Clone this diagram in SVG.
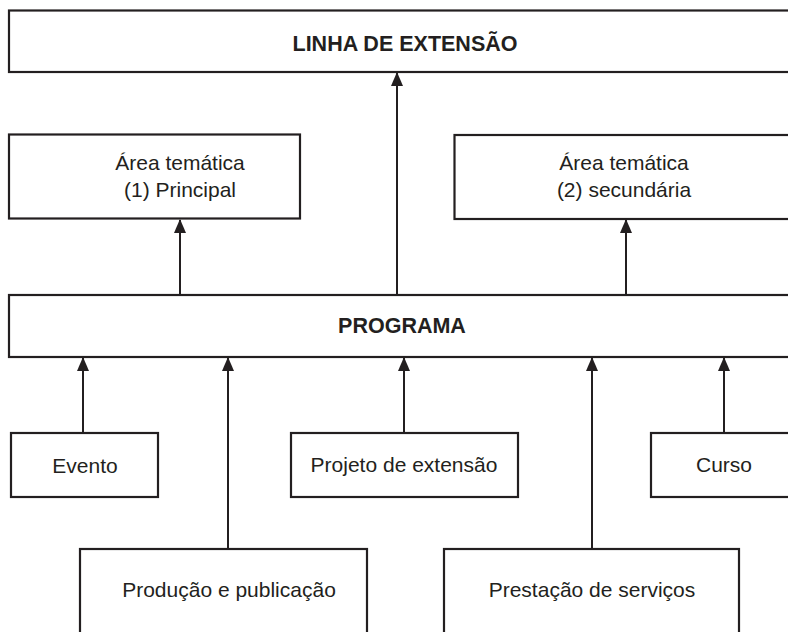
<svg xmlns="http://www.w3.org/2000/svg" width="788" height="632" viewBox="0 0 788 632">
<defs>
<marker id="ah" viewBox="0 0 14 12" refX="13" refY="6" markerWidth="14" markerHeight="12" markerUnits="userSpaceOnUse" orient="auto">
<path d="M0,0 L14,6 L0,12 Z" fill="#231f20"/>
</marker>
<style>
rect{fill:#fff;stroke:#231f20;stroke-width:2.2}
text{font-family:"Liberation Sans",Arial,sans-serif;font-size:21px;fill:#231f20;text-anchor:middle}
.b{font-weight:bold;font-size:21.5px}
.c line{stroke:#231f20;stroke-width:2}
</style>
</defs>
<rect x="0" y="0" width="788" height="632" style="fill:#fff;stroke:none"/>
<g class="c" id="connectors">
<line x1="397" y1="295" x2="397" y2="73" marker-end="url(#ah)"/>
<line x1="180" y1="295" x2="180" y2="220" marker-end="url(#ah)"/>
<line x1="626" y1="295" x2="626" y2="220" marker-end="url(#ah)"/>
<line x1="83" y1="433" x2="83" y2="358" marker-end="url(#ah)"/>
<line x1="228" y1="549" x2="228" y2="358" marker-end="url(#ah)"/>
<line x1="404" y1="433" x2="404" y2="358" marker-end="url(#ah)"/>
<line x1="592" y1="549" x2="592" y2="358" marker-end="url(#ah)"/>
<line x1="724" y1="433" x2="724" y2="358" marker-end="url(#ah)"/>
</g>
<g id="linha">
<rect x="9" y="10.5" width="800" height="61.5"/>
<text class="b" x="405" y="51">LINHA DE EXTENSÃO</text>
</g>
<g id="area1">
<rect x="9" y="134.5" width="291" height="84"/>
<text x="180" y="170">Área temática</text>
<text x="180" y="197">(1) Principal</text>
</g>
<g id="area2">
<rect x="454.5" y="135" width="350" height="84"/>
<text x="624" y="170">Área temática</text>
<text x="624" y="197">(2) secundária</text>
</g>
<g id="programa">
<rect x="9" y="295" width="800" height="62"/>
<text class="b" x="402" y="333">PROGRAMA</text>
</g>
<g id="evento">
<rect x="11" y="433" width="147" height="64"/>
<text x="85" y="473">Evento</text>
</g>
<g id="projeto">
<rect x="291" y="433" width="227" height="64"/>
<text x="404" y="472">Projeto de extensão</text>
</g>
<g id="curso">
<rect x="651" y="433" width="150" height="64"/>
<text x="724" y="472">Curso</text>
</g>
<g id="producao">
<rect x="80" y="549" width="287" height="100"/>
<text x="229" y="597">Produção e publicação</text>
</g>
<g id="prestacao">
<rect x="444" y="549" width="295" height="100"/>
<text x="592" y="597">Prestação de serviços</text>
</g>
</svg>
